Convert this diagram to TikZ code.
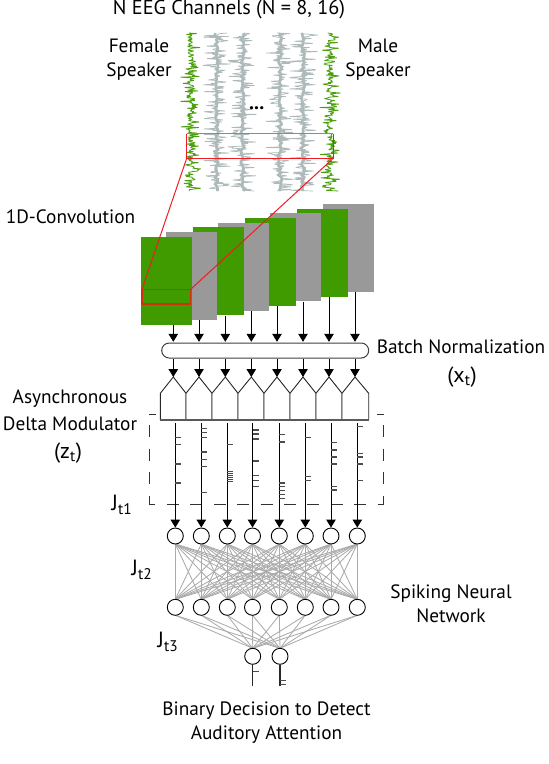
\documentclass[tikz,border=0pt]{standalone}
\usepackage{fontspec}
\setmainfont{PT Sans}
\usetikzlibrary{arrows.meta,calc}
\definecolor{cgreen}{HTML}{3F9B00}
\definecolor{cgray}{HTML}{999999}
\definecolor{tgray}{HTML}{AEB9B9}
\definecolor{tgreen}{HTML}{4C9F10}
\definecolor{cred}{HTML}{EE1C25}
\definecolor{credl}{HTML}{F25C62}
\definecolor{cdred}{HTML}{D0300A}
\definecolor{egray}{HTML}{ABABAB}
\tikzset{
  lbl/.style={inner sep=0pt,font=\fontsize{19.3}{24}\selectfont,align=center},
  jlbl/.style={inner sep=0pt,font=\fontsize{22}{24}\selectfont},
  convbox/.style={draw=none,inner sep=0pt,minimum width=51pt,minimum height=88pt},
  arr/.style={-{Triangle[width=9.5pt,length=8pt]},line width=1pt,black},
  neuron/.style={circle,draw=black,line width=0.9pt,minimum size=16pt,inner sep=0pt,fill=white},
  syn/.style={egray,line width=0.85pt},
  spike/.style={line width=1.1pt,black!70},
  pent/.style={draw=black!85,line width=0.9pt,fill=white},
  dashbox/.style={black!80,line width=0.9pt,dash pattern=on 12pt off 11.4pt},
  redl/.style={cred,line width=1pt},
  trace/.style={line width=0.5pt,line join=bevel}
}
\begin{document}
\begin{tikzpicture}[x=1pt,y=-1pt]
\useasboundingbox (0,0) rectangle (549,764);
\pgfmathsetseed{4711}
% EEG traces
\foreach \cx in {216.7,242.7,280,303}{
  \draw[trace,tgray,line width=0.7pt] plot[domain=33:191,samples=230] ({\cx+14*(2*rnd-1)^3+1.5*(2*rnd-1)},\x);
  \draw[tgray,line width=2.6pt] plot[domain=33:191,samples=70] ({\cx+1.8*(2*rnd-1)},\x);
}
\foreach \cx in {191,330}{
  \draw[trace,tgreen,line width=0.8pt] plot[domain=33:191,samples=230] ({\cx+9*(2*rnd-1)^3+3*(2*rnd-1)},\x);
}
\node[inner sep=0pt,font=\bfseries\fontsize{20}{20}\selectfont] (dots) at (256.7,108) {...};
% red zoom box (top)
\coordinate (rtl) at (186.7,133.7);
\coordinate (rtr) at (333.3,133.7);
\coordinate (rbr) at (333.3,158.3);
\coordinate (rbl) at (186.7,158.3);
\draw[credl,line width=1.4pt] (rtl) -- (rtr);
\draw[redl] (rtl) -- (rbl) -- (rbr) -- (rtr);
% conv boxes, right to left
\foreach \i/\xl/\yt/\col in {8/322.7/204/cgray,7/297.3/208.7/cgreen,6/270.3/213.3/cgray,5/245.3/218/cgreen,4/218.3/222.7/cgray,3/193/227.3/cgreen,2/166/232/cgray,1/140.7/236.7/cgreen}{
  \node[convbox,fill=\col] (c\i) at (\xl+25.5,\yt+44) {};
}
% red box in conv
\coordinate (qtl) at (142,289.3);
\coordinate (qtr) at (190.7,289.3);
\coordinate (qbr) at (190.7,304);
\coordinate (qbl) at (142,304);
\draw[cdred,line width=1.2pt] (qtl) -- (qtr) -- (qbr) -- (qbl) -- cycle;
\draw[redl] (rbl) -- (qtl);
\draw[redl] (rbr) -- (qtr);
% batch norm
\node[draw=black!75,line width=1pt,fill=white,rounded corners=7.5pt,minimum width=207pt,minimum height=15pt,inner sep=0pt] (bn) at (265.2,350.5) {};
% pentagons
\foreach \i/\xa/\xb/\xc in {1/160.3/173.3/186,2/186/199/212,3/212/225.3/238,4/238/251.3/264,5/264/277/290,6/290/303/316,7/316/329/342,8/342/355/368.7}{
  \coordinate (p\i) at (\xb,377);
  \draw[pent] (\xa,420) -- (\xa,393.3) -- (p\i) -- (\xc,393.3) -- (\xc,420);
  \coordinate (ct\i) at (\xb,341.8);
  \draw[arr] (c\i.south -| ct\i) -- (ct\i);
  \draw[arr] (bn.south -| p\i) -- (p\i);
}
\draw[line width=1.5pt,black!65] (160.3,420) -- (368.7,420);
% dashed box
\coordinate (dtl) at (149.3,414);
\coordinate (dtr) at (383.7,414);
\coordinate (dbr) at (383.7,504);
\coordinate (dbl) at (149.3,504);
\draw[dashbox,dash phase=5.7pt] (155.7,414) -- (dtl) -- (dbl);
\draw[dashbox,dash phase=5.7pt] (377.3,414) -- (dtr) -- (dbr);
\draw[dashbox] (167,504) -- (dbl -| dbr);
\draw[black!80,line width=0.9pt] (149.3,504) -- (155,504);
% synapses
\foreach \i/\x in {1/175.3,2/201.3,3/227.3,4/252.5,5/279.3,6/305.3,7/331,8/357.3}{
  \coordinate (tb\i) at (\x,544);
  \coordinate (mt\i) at (\x,599.3);
  \coordinate (mb\i) at (\x,615.3);
}
\coordinate (bt1) at (252.7,648.3);
\coordinate (bt2) at (280,648.3);
\foreach \i in {1,...,8}{
  \foreach \j in {1,...,8}{ \draw[syn] (tb\i) -- (mt\j); }
  \draw[syn] (mb\i) -- (bt1);
  \draw[syn] (mb\i) -- (bt2);
}
% neurons
\foreach \i/\x in {1/175.3,2/201.3,3/227.3,4/252.5,5/279.3,6/305.3,7/331,8/357.3}{
  \node[neuron] (t\i) at (\x,536) {};
  \node[neuron] (m\i) at (\x,607.3) {};
  \coordinate (s\i) at (\x,423.3);
  \draw[arr] (s\i) -- (t\i.north);
}
\node[neuron] (b1) at (252.7,656.3) {};
\node[neuron] (b2) at (280,656.3) {};
% spikes
\foreach \i/\ys in {1/{202,224,282,339},2/{176,187,202,246,268,290,367},3/{224,304,310,316,322,328,334},4/{180,192,207,273,316,332,349},5/{194,216,339,349,362,374,386},6/{202,320,332},7/{218,240,261,282,349,360},8/{170,250,261,282,332}}{
  \foreach \y in \ys {
    \draw[spike] ($(s\i)+(0,\y/3+370-423.3)$) -- ++(6,0);
  }
}
% output spikes
\coordinate (o1) at (252.7,686);
\coordinate (o2) at (280,686);
\draw[spike,black!85] (b1.south) -- (o1);
\draw[spike,black!85] (b2.south) -- (o2);
\draw[spike] ($(b1.south)+(0,7)$) -- ++(6,0);
\draw[spike] ($(b2.south)+(0,15.5)$) -- ++(6,0);
\draw[spike] ($(b2.south)+(0,19.5)$) -- ++(6,0);
% labels
\node[lbl,font=\fontsize{20.2}{24}\selectfont] (l1) at (229,9.5) {N EEG Channels (N = 8, 16)};
\node[lbl] (l2) at (139,60) {Female\\Speaker};
\node[lbl] (l3) at (378,60) {Male\\Speaker};
\node[lbl] (l4) at (70.5,217) {1D-Convolution};
\node[lbl] (l5) at (461,347) {Batch Normalization};
\node[jlbl] (l6) at (462,377) {(x$_{\mathrm{t}}$)};
\node[lbl] (l7) at (70,410) {Asynchronous\\[3pt]Delta Modulator};
\node[jlbl] (l8) at (68,453) {(z$_{\mathrm{t}}$)};
\node[jlbl] (l9) at (122,505) {J$_{\mathrm{t1}}$};
\node[jlbl] (l10) at (142,570) {J$_{\mathrm{t2}}$};
\node[jlbl] (l11) at (168,642) {J$_{\mathrm{t3}}$};
\node[lbl] (l12) at (451,604) {Spiking Neural\\Network};
\node[lbl] (l13) at (266.5,723) {Binary Decision to Detect\\Auditory Attention};
\end{tikzpicture}
\end{document}
